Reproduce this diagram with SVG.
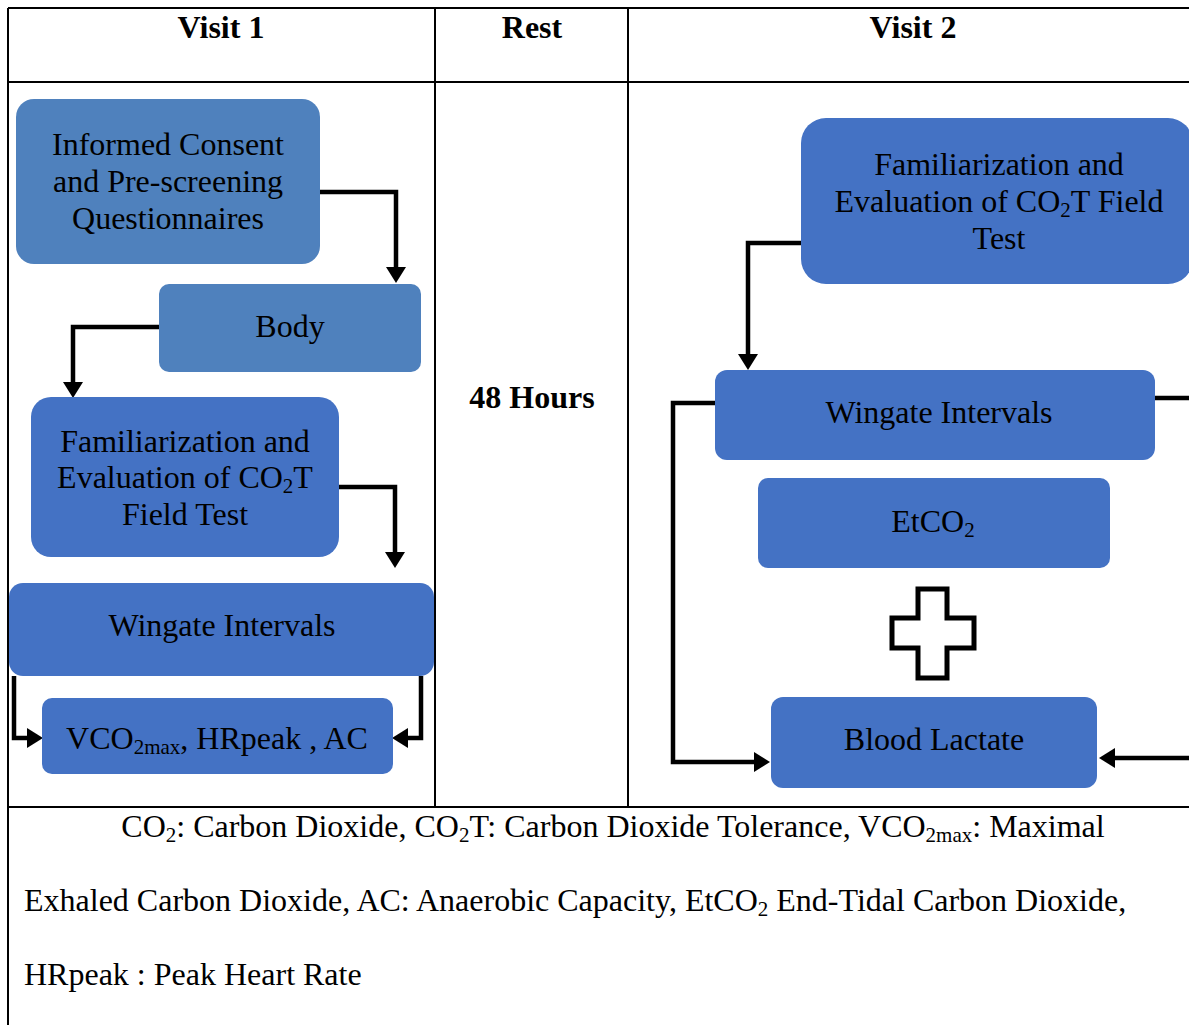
<svg xmlns="http://www.w3.org/2000/svg" width="1189" height="1025" viewBox="0 0 1189 1025">
<defs>
<style>
text{font-family:"Liberation Serif","Times New Roman",serif;font-size:32px;fill:#000}
.h{font-weight:bold;text-anchor:middle}
.c{text-anchor:middle}
.sub{font-size:21px}
.b1{fill:#4f81bd}
.b2{fill:#4472c4}
.grid{stroke:#000;stroke-width:2;fill:none}
.con{stroke:#000;stroke-width:4.5;fill:none;marker-end:url(#ah)}
</style>
<marker id="ah" markerUnits="userSpaceOnUse" markerWidth="17" markerHeight="20" refX="3" refY="10" orient="auto">
<path d="M0,0 L16,10 L0,20 z" fill="#000"/>
</marker>
</defs>
<rect width="1189" height="1025" fill="#fff"/>
<g id="table">
<path class="grid" d="M8,8 H1189 M8,82 H1189 M8,8 V1025 M435,8 V807 M628,8 V807 M8,807 H1189"/>
<text class="h" x="221" y="38">Visit 1</text>
<text class="h" x="532" y="38">Rest</text>
<text class="h" x="913" y="38">Visit 2</text>
<text class="h" x="532" y="408">48 Hours</text>
</g>
<g id="connectors">
<path class="con" d="M320,192 H396 V270"/>
<path class="con" d="M159,327 H73 V385"/>
<path class="con" d="M339,487 H395 V555"/>
<path class="con" d="M14,676 V738 H30"/>
<path class="con" d="M421,676 V738 H405"/>
<path class="con" d="M801,243 H748 V357"/>
<path class="con" d="M715,403 H673 V762 H757"/>
<path class="con" d="M1155,398 H1200 V758 H1112"/>
</g>
<g id="consent">
<rect class="b1" x="16" y="99" width="304" height="165" rx="18"/>
<text class="c" x="168" y="155">Informed Consent</text>
<text class="c" x="168" y="192">and Pre-screening</text>
<text class="c" x="168" y="229">Questionnaires</text>
</g>
<g id="body">
<rect class="b1" x="159" y="284" width="262" height="88" rx="10"/>
<text class="c" x="290" y="337">Body</text>
</g>
<g id="fam1">
<rect class="b2" x="31" y="397" width="308" height="160" rx="20"/>
<text class="c" x="185" y="452">Familiarization and</text>
<text class="c" x="185" y="488">Evaluation of CO<tspan class="sub" dy="5">2</tspan><tspan dy="-5">T</tspan></text>
<text class="c" x="185" y="525">Field Test</text>
</g>
<g id="wingate1">
<rect class="b2" x="9" y="583" width="425" height="93" rx="14"/>
<text class="c" x="222" y="636">Wingate Intervals</text>
</g>
<g id="vco2">
<rect class="b2" x="42" y="698" width="351" height="76" rx="10"/>
<text class="c" x="217" y="749">VCO<tspan class="sub" dy="5">2max</tspan><tspan dy="-5">, HRpeak , AC</tspan></text>
</g>
<g id="fam2">
<rect class="b2" x="801" y="118" width="392" height="166" rx="25"/>
<text class="c" x="999" y="175">Familiarization and</text>
<text class="c" x="999" y="212">Evaluation of CO<tspan class="sub" dy="5">2</tspan><tspan dy="-5">T Field</tspan></text>
<text class="c" x="999" y="249">Test</text>
</g>
<g id="wingate2">
<rect class="b2" x="715" y="370" width="440" height="90" rx="12"/>
<text class="c" x="939" y="423">Wingate Intervals</text>
</g>
<g id="etco2">
<rect class="b2" x="758" y="478" width="352" height="90" rx="10"/>
<text class="c" x="933" y="532">EtCO<tspan class="sub" dy="5">2</tspan></text>
</g>
<g id="plus">
<path d="M918,589 H947 V618 H974 V648 H947 V678 H918 V648 H892 V618 H918 Z" fill="#fff" stroke="#000" stroke-width="5"/>
</g>
<g id="lactate">
<rect class="b2" x="771" y="697" width="326" height="91" rx="12"/>
<text class="c" x="934" y="750">Blood Lactate</text>
</g>
<g id="footnote">
<text class="c" x="613" y="837">CO<tspan class="sub" dy="5">2</tspan><tspan dy="-5">: Carbon Dioxide, CO</tspan><tspan class="sub" dy="5">2</tspan><tspan dy="-5">T: Carbon Dioxide Tolerance, VCO</tspan><tspan class="sub" dy="5">2max</tspan><tspan dy="-5">: Maximal</tspan></text>
<text x="24" y="911">Exhaled Carbon Dioxide, AC: Anaerobic Capacity, EtCO<tspan class="sub" dy="5">2</tspan><tspan dy="-5"> End-Tidal Carbon Dioxide,</tspan></text>
<text x="24" y="985">HRpeak : Peak Heart Rate</text>
</g>
</svg>
